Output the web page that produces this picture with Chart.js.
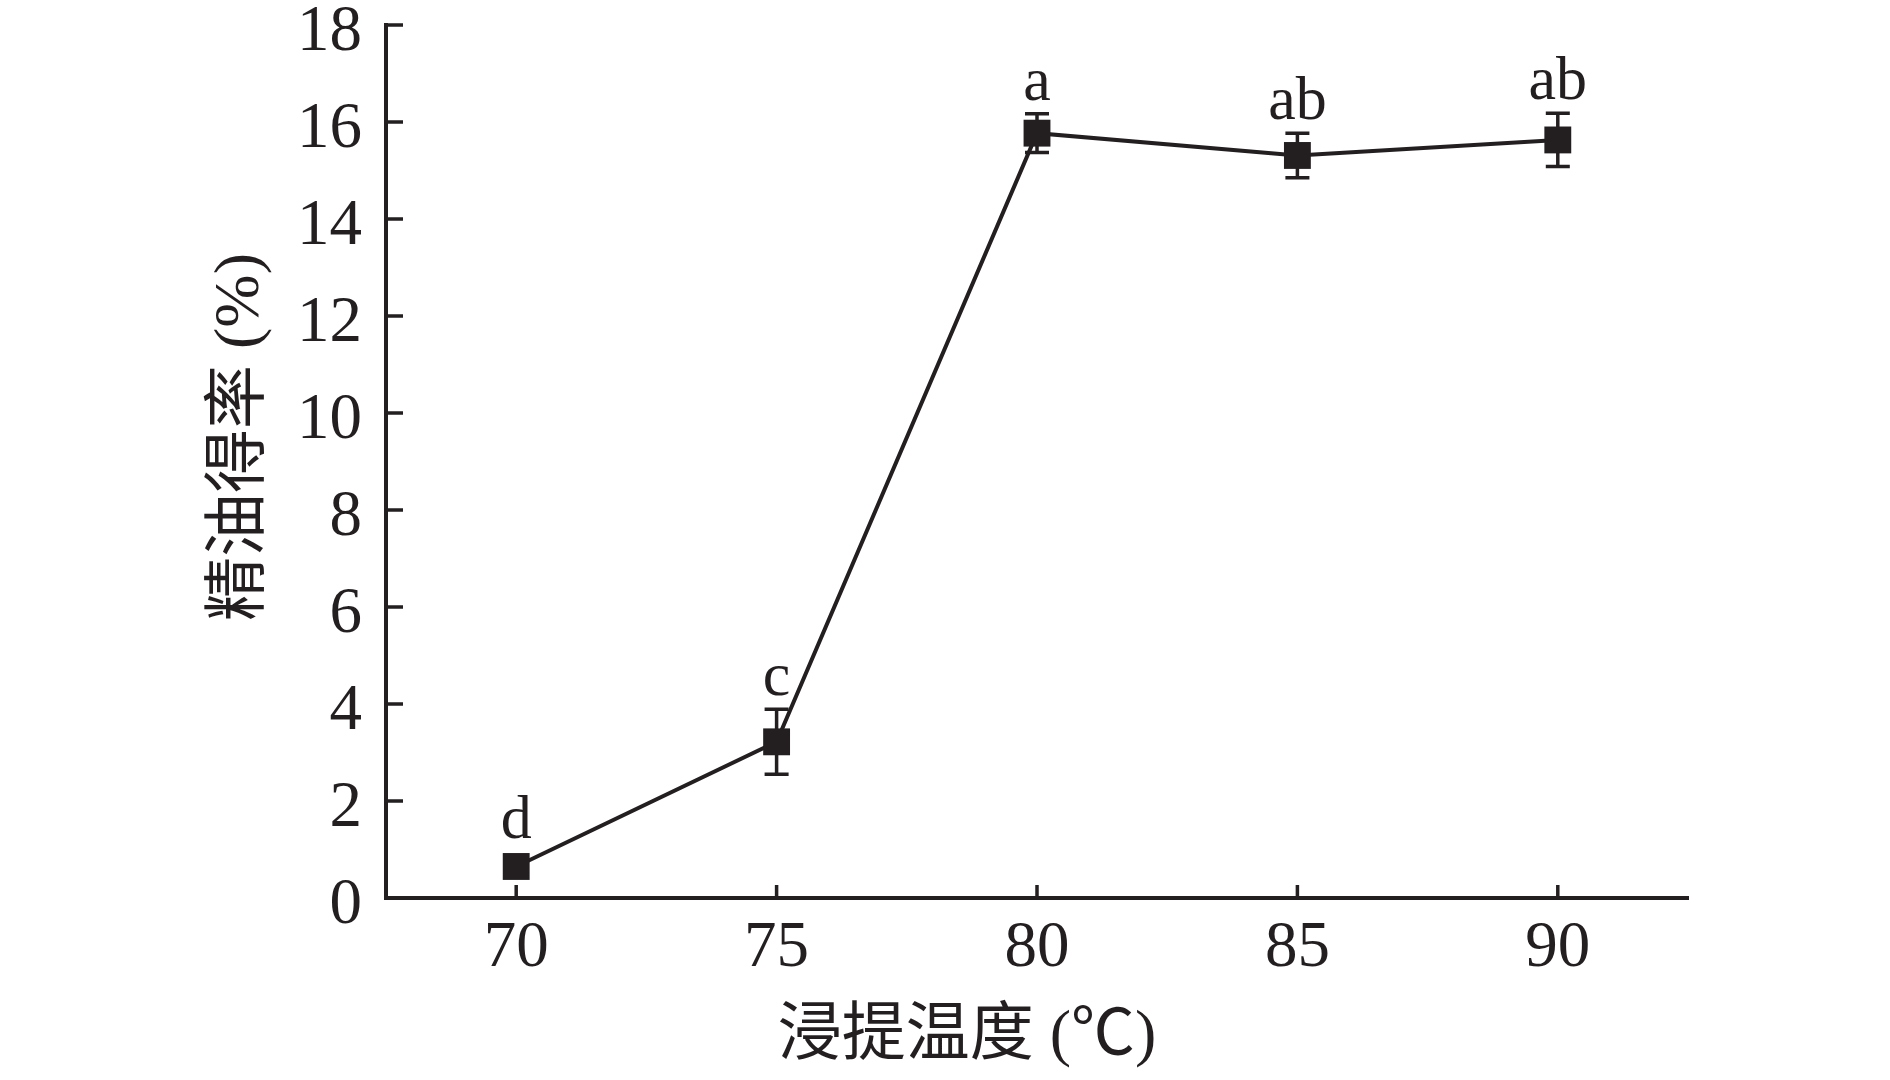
<!DOCTYPE html>
<html lang="zh">
<head>
  <meta charset="UTF-8">
  <title>浸提温度对精油得率的影响</title>
  <script src="https://cdn.jsdelivr.net/npm/chart.js"></script>
  <style>
    * { margin: 0; padding: 0; box-sizing: border-box; }
    body { background: #fff; width: 1890px; height: 1080px; overflow: hidden; }
    .wrap { width: 1890px; height: 1080px; }
  </style>
</head>
<body>
  <div class="wrap">
    <canvas id="yieldChart" width="1890" height="1080"></canvas>
  </div>

  <script>
    // data
    const temps = [70, 75, 80, 85, 90];
    const yieldMean = [0.65, 3.22, 15.77, 15.31, 15.63];
    const yieldErr = [0.15, 0.67, 0.40, 0.46, 0.55];
    const sigLetters = ['d', 'c', 'a', 'ab', 'ab'];
    const xTicks = [70, 75, 80, 85, 90];
    const xTitle = '浸提温度 (℃)';
    const yTitle = '精油得率 (%)';

    const ink = '#231f20';
    const serif = '"Liberation Serif", "Noto Sans CJK SC", serif';

    // error bars, inward ticks, letters and axis titles
    const extras = {
      id: 'extras',
      beforeDatasetsDraw(chart) {
        const { ctx, scales: { x, y } } = chart;
        ctx.save();
        ctx.strokeStyle = ink;
        ctx.lineWidth = 3.5;
        temps.forEach((t, i) => {
          const px = x.getPixelForValue(t);
          const top = y.getPixelForValue(yieldMean[i] + yieldErr[i]);
          const bot = y.getPixelForValue(yieldMean[i] - yieldErr[i]);
          ctx.beginPath();
          ctx.moveTo(px, top); ctx.lineTo(px, bot);
          ctx.moveTo(px - 12, top); ctx.lineTo(px + 12, top);
          ctx.moveTo(px - 12, bot); ctx.lineTo(px + 12, bot);
          ctx.stroke();
        });
        ctx.restore();
      },
      afterDraw(chart) {
        const { ctx, chartArea, scales: { x, y } } = chart;
        ctx.save();
        ctx.strokeStyle = ink;
        ctx.lineWidth = 3.5;
        ctx.beginPath();
        y.ticks.forEach(tk => {
          if (tk.value === 0) return;
          const py = y.getPixelForValue(tk.value);
          ctx.moveTo(chartArea.left, py);
          ctx.lineTo(chartArea.left + 17, py);
        });
        x.ticks.forEach(tk => {
          const px = x.getPixelForValue(tk.value);
          ctx.moveTo(px, chartArea.bottom);
          ctx.lineTo(px, chartArea.bottom - 13);
        });
        ctx.stroke();

        // significance letters
        ctx.fillStyle = ink;
        ctx.font = '62px ' + serif;
        ctx.textAlign = 'center';
        ctx.textBaseline = 'alphabetic';
        temps.forEach((t, i) => {
          const px = x.getPixelForValue(t);
          const errTop = y.getPixelForValue(yieldMean[i] + yieldErr[i]);
          const markTop = y.getPixelForValue(yieldMean[i]) - 14;
          ctx.fillText(sigLetters[i], px, Math.min(errTop, markTop) - 14);
        });

        // axis titles
        ctx.font = '64px ' + serif;
        ctx.textBaseline = 'middle';
        ctx.fillText(xTitle, 967, 1037);
        ctx.translate(241, 437);
        ctx.rotate(-Math.PI / 2);
        ctx.fillText(yTitle, 0, 0);
        ctx.restore();
      }
    };

    new Chart(document.getElementById('yieldChart'), {
      type: 'line',
      data: {
        datasets: [{
          data: temps.map((t, i) => ({ x: t, y: yieldMean[i] })),
          borderColor: ink,
          borderWidth: 4,
          backgroundColor: ink,
          pointStyle: 'rect',
          pointRadius: 19,
          pointBackgroundColor: ink,
          pointBorderWidth: 0,
          tension: 0,
          fill: false
        }]
      },
      options: {
        responsive: false,
        animation: false,
        layout: { padding: { top: 25, right: 202, left: 0, bottom: 0 } },
        plugins: { legend: { display: false }, tooltip: { enabled: false } },
        scales: {
          x: {
            type: 'linear',
            min: 67.5,
            max: 92.5,
            afterBuildTicks: s => { s.ticks = xTicks.map(v => ({ value: v })); },
            afterFit: s => { s.height = 182; s.paddingLeft = 0; s.paddingRight = 0; },
            grid: { display: false, drawTicks: false },
            border: { display: true, color: ink, width: 4 },
            ticks: {
              color: ink,
              padding: 12,
              font: { family: serif, size: 65 }
            }
          },
          y: {
            min: 0,
            max: 18,
            afterFit: s => { s.width = 386; s.paddingTop = 0; s.paddingBottom = 0; },
            grid: { display: false, drawTicks: false },
            border: { display: true, color: ink, width: 4 },
            ticks: {
              stepSize: 2,
              color: ink,
              padding: 24,
              labelOffset: 8,
              font: { family: serif, size: 65 }
            }
          }
        }
      },
      plugins: [extras]
    });
  </script>
</body>
</html>
